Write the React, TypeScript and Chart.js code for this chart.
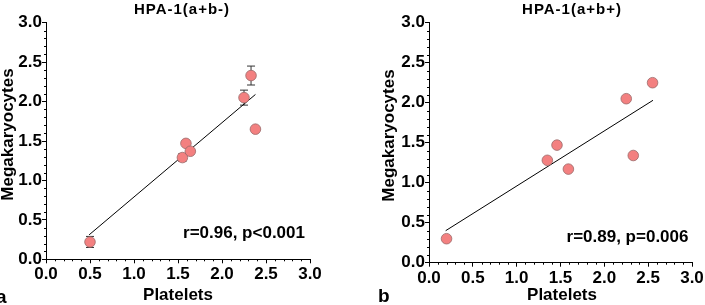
import React, { useEffect, useRef } from "react";
import { Chart, registerables } from "chart.js";

Chart.register(...registerables);

const FONT = '"Liberation Sans", Arial, Helvetica, sans-serif';

// Panel a: HPA-1(a+b-)
const plateletsA = [0.5, 1.55, 1.59, 1.64, 2.25, 2.33, 2.38];
const megakaryocytesA = [0.22, 1.29, 1.47, 1.37, 2.05, 2.33, 1.65];
const errorA = [0.07, 0.05, 0, 0, 0.095, 0.12, 0];
const fitXA = [0.49, 2.38];
const fitYA = [0.31, 2.09];

// Panel b: HPA-1(a+b+)
const plateletsB = [0.2, 1.35, 1.46, 1.59, 2.25, 2.33, 2.55];
const megakaryocytesB = [0.3, 1.28, 1.47, 1.17, 2.05, 1.34, 2.25];
const errorB = [0, 0, 0, 0, 0, 0, 0];
const fitXB = [0.19, 2.555];
const fitYB = [0.4, 2.03];

const axisTicks = [0, 0.5, 1, 1.5, 2, 2.5, 3];

type Panel = {
  title: string;
  letter: string;
  stat: string;
  xs: number[];
  ys: number[];
  err: number[];
  fx: number[];
  fy: number[];
  width: number;
  yScaleWidth: number;
  padding: { top: number; right: number; bottom: number; left: number };
  titlePos: [number, number];
  yTitlePos: [number, number];
  xTitlePos: [number, number];
  statPos: [number, number];
  letterPos: [number, number];
};

const panels: Panel[] = [
  {
    title: "HPA-1(a+b-)",
    letter: "a",
    stat: "r=0.96, p<0.001",
    xs: plateletsA,
    ys: megakaryocytesA,
    err: errorA,
    fx: fitXA,
    fy: fitYA,
    width: 352,
    yScaleWidth: 46,
    padding: { top: 22.7, right: 42, bottom: 15.7, left: 0 },
    titlePos: [182, 10],
    yTitlePos: [8, 134.5],
    xTitlePos: [178, 295],
    statPos: [244, 233.5],
    letterPos: [-4, 303],
  },
  {
    title: "HPA-1(a+b+)",
    letter: "b",
    stat: "r=0.89, p=0.006",
    xs: plateletsB,
    ys: megakaryocytesB,
    err: errorB,
    fx: fitXB,
    fy: fitYB,
    width: 353,
    yScaleWidth: 77,
    padding: { top: 22.7, right: 13, bottom: 12.3, left: 0 },
    titlePos: [220, 10],
    yTitlePos: [37, 135.5],
    xTitlePos: [210, 295],
    statPos: [275.5, 237.5],
    letterPos: [26, 302],
  },
];

function makePlugin(p: Panel) {
  return {
    id: "extras",
    beforeDatasetsDraw(chart: any) {
      const ctx = chart.ctx;
      const xs = chart.scales.x;
      const ys = chart.scales.y;
      ctx.save();
      ctx.strokeStyle = "#333";
      ctx.lineWidth = 1;
      p.err.forEach((e, i) => {
        if (!e) return;
        const x = xs.getPixelForValue(p.xs[i]);
        const y1 = ys.getPixelForValue(p.ys[i] - e);
        const y2 = ys.getPixelForValue(p.ys[i] + e);
        ctx.beginPath();
        ctx.moveTo(x, y1);
        ctx.lineTo(x, y2);
        ctx.moveTo(x - 4, y1);
        ctx.lineTo(x + 4, y1);
        ctx.moveTo(x - 4, y2);
        ctx.lineTo(x + 4, y2);
        ctx.stroke();
      });
      ctx.restore();
    },
    afterDraw(chart: any) {
      const ctx = chart.ctx;
      const xs = chart.scales.x;
      const ys = chart.scales.y;
      const area = chart.chartArea;
      ctx.save();
      // minor ticks
      ctx.strokeStyle = "#000";
      ctx.lineWidth = 1;
      ctx.beginPath();
      for (let i = 1; i < 30; i++) {
        if (i % 5 === 0) continue;
        const v = i / 10;
        const px = Math.round(xs.getPixelForValue(v)) + 0.5;
        ctx.moveTo(px, area.bottom);
        ctx.lineTo(px, area.bottom + 2);
        const py = Math.round(ys.getPixelForValue(v)) + 0.5;
        ctx.moveTo(area.left, py);
        ctx.lineTo(area.left - 2, py);
      }
      ctx.stroke();

      ctx.fillStyle = "#000";
      ctx.textBaseline = "middle";
      // title
      ctx.font = `bold 15px ${FONT}`;
      (ctx as any).letterSpacing = "1px";
      ctx.textAlign = "center";
      ctx.fillText(p.title, p.titlePos[0], p.titlePos[1]);
      (ctx as any).letterSpacing = "0px";
      // axis titles
      ctx.font = `bold 17px ${FONT}`;
      ctx.fillText("Platelets", p.xTitlePos[0], p.xTitlePos[1]);
      ctx.save();
      ctx.translate(p.yTitlePos[0], p.yTitlePos[1]);
      ctx.rotate(-Math.PI / 2);
      ctx.fillText("Megakaryocytes", 0, 0);
      ctx.restore();
      // stat
      ctx.font = `bold 17px ${FONT}`;
      ctx.fillText(p.stat, p.statPos[0], p.statPos[1]);
      // panel letter
      ctx.font = `bold 19px ${FONT}`;
      ctx.textAlign = "left";
      ctx.textBaseline = "alphabetic";
      ctx.fillText(p.letter, p.letterPos[0], p.letterPos[1]);
      ctx.restore();
    },
  };
}

function PanelChart({ p }: { p: Panel }) {
  const ref = useRef<HTMLCanvasElement>(null);
  useEffect(() => {
    if (!ref.current) return;
    const tickFont = { family: FONT, size: 17, weight: "bold" as const };
    const chart = new Chart(ref.current, {
      type: "scatter",
      data: {
        datasets: [
          {
            type: "scatter",
            data: p.xs.map((x, i) => ({ x, y: p.ys[i] })),
            backgroundColor: "#F38080",
            borderColor: "#9a6a6a",
            borderWidth: 0.8,
            pointRadius: 5.3,
          },
          {
            type: "line",
            data: p.fx.map((x, i) => ({ x, y: p.fy[i] })),
            borderColor: "#000",
            borderWidth: 1,
            pointRadius: 0,
            fill: false,
          } as any,
        ],
      },
      options: {
        animation: false,
        responsive: false,
        events: [],
        layout: { padding: p.padding },
        plugins: {
          legend: { display: false },
          tooltip: { enabled: false },
          title: { display: false },
        },
        scales: {
          x: {
            type: "linear",
            min: 0,
            max: 3,
            afterBuildTicks: (s: any) => {
              s.ticks = axisTicks.map((v) => ({ value: v }));
            },
            afterFit: (s: any) => {
              s.height = 30;
            },
            ticks: {
              font: tickFont,
              color: "#000",
              padding: 1,
              maxRotation: 0,
              autoSkip: false,
              callback: (v: any) => Number(v).toFixed(1),
            },
            grid: {
              display: true,
              drawOnChartArea: false,
              drawTicks: true,
              tickLength: 4,
              color: "#000",
              lineWidth: 1,
            },
            border: { display: true, color: "#000", width: 1 },
          },
          y: {
            type: "linear",
            min: 0,
            max: 3,
            afterBuildTicks: (s: any) => {
              s.ticks = axisTicks.map((v) => ({ value: v }));
            },
            afterFit: (s: any) => {
              s.width = p.yScaleWidth;
            },
            ticks: {
              font: tickFont,
              color: "#000",
              padding: 0,
              autoSkip: false,
              callback: (v: any) => Number(v).toFixed(1),
            },
            grid: {
              display: true,
              drawOnChartArea: false,
              drawTicks: true,
              tickLength: 4,
              color: "#000",
              lineWidth: 1,
            },
            border: { display: true, color: "#000", width: 1 },
          },
        },
      },
      plugins: [makePlugin(p)],
    } as any);
    return () => chart.destroy();
  }, [p]);
  return (
    <canvas
      ref={ref}
      width={p.width}
      height={305}
      style={{ display: "block", width: p.width, height: 305 }}
    />
  );
}

export default function App() {
  return (
    <div
      style={{
        position: "absolute",
        left: 0,
        top: 0,
        width: 705,
        height: 305,
        display: "flex",
        background: "#fff",
      }}
    >
      {panels.map((p) => (
        <PanelChart key={p.letter} p={p} />
      ))}
    </div>
  );
}
